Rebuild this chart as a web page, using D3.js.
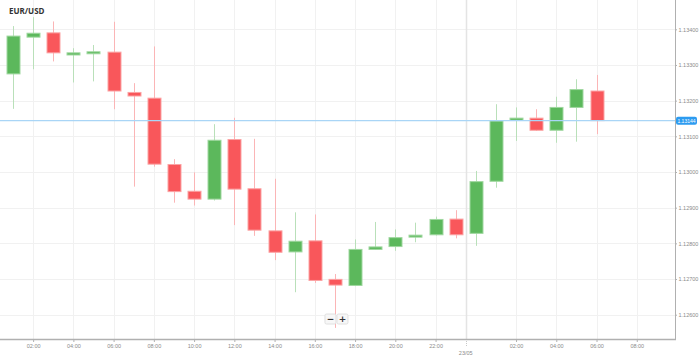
<!DOCTYPE html>
<html><head><meta charset="utf-8">
<script src="https://cdn.jsdelivr.net/npm/d3@7"></script>
<style>html,body{margin:0;padding:0;background:#fff;overflow:hidden}</style>
</head><body><svg id="c" width="699" height="358"></svg>
<script>
// Hourly candles, 22/05 01:00 .. 23/05 06:00 (hours counted from 22/05 00:00)
const hours = d3.range(1, 31);
const opens  = [1.13275,1.13378,1.13390,1.13328,1.13335,1.13336,1.13223,1.13207,1.13021,1.12946,1.12924,1.13091,1.12953,1.12835,1.12776,1.12807,1.12699,1.12682,1.12783,1.12791,1.12819,1.12824,1.12868,1.12828,1.12974,1.13145,1.13151,1.13117,1.13181,1.13227];
const highs  = [1.13409,1.13434,1.13422,1.13347,1.13356,1.13421,1.13249,1.13352,1.13036,1.12999,1.13134,1.13152,1.13093,1.12981,1.12887,1.12881,1.12714,1.12811,1.12860,1.12839,1.12858,1.12875,1.12893,1.13003,1.13190,1.13181,1.13176,1.13211,1.13260,1.13272];
const lows   = [1.13177,1.13288,1.13310,1.13251,1.13254,1.13176,1.12959,1.13015,1.12914,1.12906,1.12920,1.12851,1.12821,1.12753,1.12663,1.12689,1.12563,1.12680,1.12783,1.12779,1.12803,1.12822,1.12814,1.12793,1.12956,1.13087,1.13115,1.13082,1.13085,1.13106];
const closes = [1.13381,1.13389,1.13334,1.13334,1.13337,1.13227,1.13213,1.13022,1.12945,1.12924,1.13089,1.12952,1.12837,1.12775,1.12806,1.12696,1.12683,1.12783,1.12790,1.12816,1.12823,1.12867,1.12824,1.12973,1.13143,1.13151,1.13117,1.13181,1.13231,1.13144];
const yTicks = [1.134,1.133,1.132,1.131,1.130,1.129,1.128,1.127,1.126];
const xTickHours  = [2,4,6,8,10,12,14,16,18,20,22,26,28,30,32];
const xTickLabels = ["02:00","04:00","06:00","08:00","10:00","12:00","14:00","16:00","18:00","20:00","22:00","02:00","04:00","06:00","08:00"];
const dayBreakHour = 23.5, dayBreakLabel = "23/05";
const lastPrice = 1.13144;
const title = "EUR/USD";

const svg = d3.select("#c");
const W = 675, H = 339;
const x = d3.scaleLinear().domain([0.354, 33.9]).range([0, W]);
const y = d3.scaleLinear().domain([1.126, 1.134]).range([314.7, 29.3]);
const data = hours.map((h,i)=>({h,o:opens[i],hi:highs[i],lo:lows[i],c:closes[i]}));
const tickFont = "5.5px 'Liberation Sans', Arial, sans-serif";

// grid
const g = svg.append("g");
g.selectAll(".hg").data(yTicks).join("line")
  .attr("x1",0).attr("x2",W).attr("y1",d=>Math.round(y(d))+0.5).attr("y2",d=>Math.round(y(d))+0.5)
  .attr("stroke","#f1f1f1").attr("stroke-width",1);
g.selectAll(".vg").data(xTickHours).join("line")
  .attr("y1",0).attr("y2",H).attr("x1",d=>Math.round(x(d))+0.5).attr("x2",d=>Math.round(x(d))+0.5)
  .attr("stroke","#f1f1f1").attr("stroke-width",1);
g.append("line").attr("y1",0).attr("y2",H).attr("x1",Math.round(x(dayBreakHour))+0.5).attr("x2",Math.round(x(dayBreakHour))+0.5)
  .attr("stroke","#e4e4e4").attr("stroke-width",1.5);
g.append("line").attr("y1",H).attr("y2",H+7).attr("x1",Math.round(x(dayBreakHour))+0.5).attr("x2",Math.round(x(dayBreakHour))+0.5)
  .attr("stroke","#c8c8c8").attr("stroke-width",1).attr("stroke-dasharray","1,1");

// candles
const bw = 13;
const col = d=> d.c>=d.o ? "#5cb85c" : "#f9575b";
const wickCol = d=> d.c>=d.o ? "#b9e0b9" : "#fbb5b6";
const cg = svg.append("g");
cg.selectAll(".w").data(data).join("line")
  .attr("x1",d=>Math.round(x(d.h))+0.5).attr("x2",d=>Math.round(x(d.h))+0.5)
  .attr("y1",d=>y(d.hi)).attr("y2",d=>y(d.lo)).attr("stroke",wickCol).attr("stroke-width",1);
cg.selectAll(".b").data(data).join("rect")
  .attr("x",d=>Math.round(x(d.h))+0.5-bw/2).attr("width",bw)
  .attr("y",d=>y(Math.max(d.o,d.c)))
  .attr("height",d=>Math.max(2,Math.abs(y(d.o)-y(d.c))))
  .attr("fill",col).attr("stroke",d=>d.c>=d.o?"#9fd79f":"#fba3a4").attr("stroke-width",1);

// price line
svg.append("line").attr("x1",0).attr("x2",W).attr("y1",y(lastPrice)).attr("y2",y(lastPrice))
  .attr("stroke","#a9d5f6").attr("stroke-width",1.3);

// axes
const ya = svg.append("g").attr("transform",`translate(${W},0)`)
  .call(d3.axisRight(y).tickValues(yTicks).tickFormat(d3.format(".5f")).tickSize(2).tickPadding(1.5));
ya.select(".domain").attr("stroke","#b0b0b0").attr("d",`M0.5,0V${H}`);
ya.selectAll(".tick line").attr("stroke","#b0b0b0");
ya.selectAll("text").attr("fill","#8a8a8a").style("font",tickFont);

const xa = svg.append("g").attr("transform",`translate(0,${H})`)
  .call(d3.axisBottom(x).tickValues(xTickHours).tickFormat((d,i)=>xTickLabels[i]).tickSize(3).tickPadding(2));
xa.select(".domain").attr("stroke","#b0b0b0").attr("stroke-width",1.5).attr("d",`M0,0.5H${W+1}`);
xa.selectAll(".tick line").attr("stroke","#b0b0b0");
xa.selectAll("text").attr("fill","#8a8a8a").style("font",tickFont);
svg.append("text").attr("x",x(dayBreakHour)).attr("y",355).attr("text-anchor","middle")
  .attr("fill","#8a8a8a").style("font",tickFont).text(dayBreakLabel);

// last price label
const ly = y(lastPrice);
svg.append("rect").attr("x",W+1).attr("y",ly-4).attr("width",21).attr("height",8).attr("rx",2)
  .attr("fill","#2d9bf0");
svg.append("text").attr("x",W+11.5).attr("y",ly+2).attr("text-anchor","middle")
  .attr("fill","#fff").style("font","5px 'Liberation Sans', Arial, sans-serif").text(d3.format(".5f")(lastPrice));

// title
svg.append("text").attr("x",9).attr("y",14).attr("fill","#333")
  .style("font","bold 8px 'Open Sans', sans-serif").text(title);

// zoom buttons
const zb = svg.append("g").attr("transform",`translate(${x(17)-10},314)`);
[["−",0],["+",12]].forEach(([t,dx])=>{
  zb.append("rect").attr("x",dx).attr("y",0).attr("width",11).attr("height",10).attr("rx",1.5)
    .attr("fill","#f7f7f7").attr("stroke","#e0e0e0");
  zb.append("text").attr("x",dx+5.5).attr("y",8).attr("text-anchor","middle")
    .attr("fill","#333").style("font","bold 9px 'DejaVu Sans', sans-serif").text(t);
});
</script></body></html>
